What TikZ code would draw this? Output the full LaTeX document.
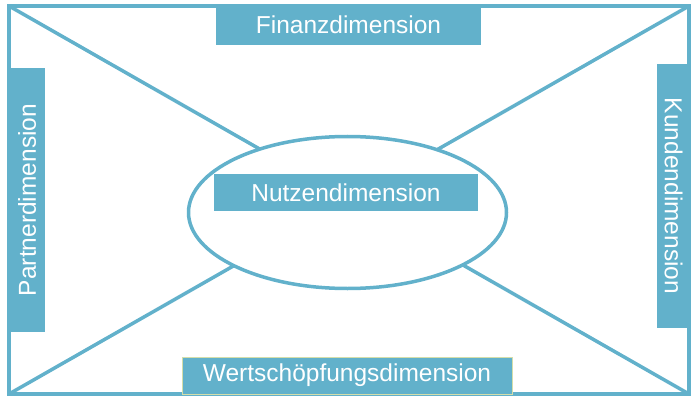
\documentclass[tikz,border=0pt]{standalone}
\usepackage{fontspec}
\setmainfont{Liberation Sans}
\usetikzlibrary{shapes.geometric}
\definecolor{dimblue}{RGB}{98,177,203}
\definecolor{dimedge}{RGB}{212,222,170}
\begin{document}
\begin{tikzpicture}[x=1pt,y=-1pt,
  frame/.style={draw=dimblue,line width=3.5pt},
  dimbox/.style={fill=dimblue,text=white,inner sep=0pt,font=\fontsize{24.5}{28}\selectfont},
  hub/.style={ellipse,draw=dimblue,line width=3.5pt,fill=white,inner sep=0pt,minimum width=318pt,minimum height=152pt}
]
\useasboundingbox (0,0) rectangle (692,398);
% outer frame corners
\coordinate (tl) at (9,6);
\coordinate (tr) at (689,6);
\coordinate (bl) at (9,394);
\coordinate (br) at (689,394);
\draw[frame] (tl) -- (tr) -- (br) -- (bl) -- cycle;
% the two diagonals, covered in the middle by the ellipse
\draw[frame] (tl) -- (br);
\draw[frame] (tr) -- (bl);
\node[hub] (nutzen) at (347.5,212.5) {};
% dimension labels
\node[dimbox,minimum width=265pt,minimum height=40pt] (finanz) at (348.5,25) {Finanzdimension};
\node[dimbox,rotate=90,minimum width=264pt,minimum height=36pt] (partner) at (27,200) {Partnerdimension};
\node[dimbox,rotate=-90,minimum width=264pt,minimum height=33pt] (kunden) at (673.5,196) {Kundendimension};
\node[dimbox,draw=dimedge,line width=0.8pt,minimum width=330pt,minimum height=37pt] (wert) at (347,375.5) {Wertschöpfungsdimension};
\node[dimbox,minimum width=264pt,minimum height=37pt] (nutzlabel) at (346,192.5) {Nutzendimension};
\end{tikzpicture}
\end{document}
